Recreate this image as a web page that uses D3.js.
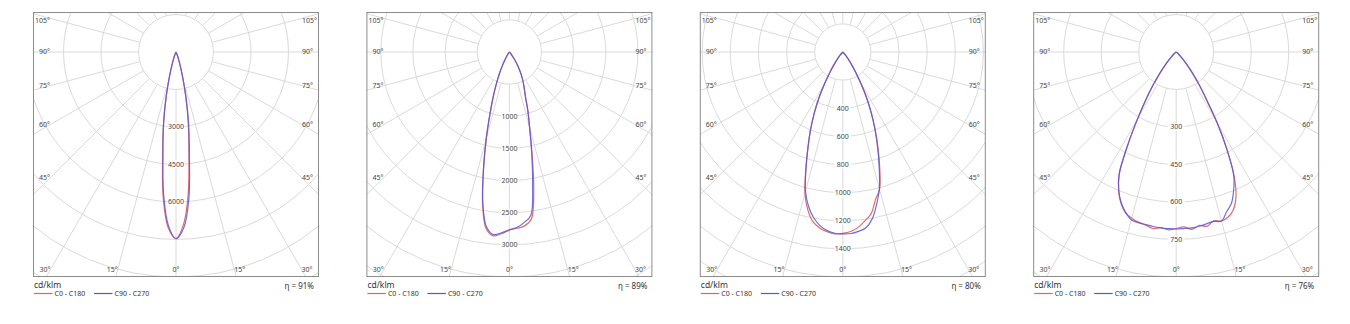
<!DOCTYPE html>
<html><head><meta charset="utf-8">
<script src="https://cdn.jsdelivr.net/npm/d3@7"></script>
<style>
body{margin:0;background:#fff}
svg{display:block}
text{font-family:"Noto Sans",sans-serif}
.txt{opacity:0.995}
</style>
</head><body>
<svg id="chart" width="1350" height="324"></svg>
<script>
// ---- data ----
const gamma = [-60,-57.5,-55,-52.5,-50,-47.5,-45,-42.5,-40,-37.5,-35,-32.5,-30,-27.5,-25,-22.5,-20,-17.5,-15,-12.5,-10,-7.5,-5,-2.5,0,2.5,5,7.5,10,12.5,15,17.5,20,22.5,25,27.5,30,32.5,35,37.5,40,42.5,45,47.5,50,52.5,55,57.5,60];
const seriesNames = ["C0 - C180", "C90 - C270"];
const unitLabel = "cd/klm";
const ringMax = [9000, 3500, 1600, 900];
const ringStep = [1500, 500, 200, 150];
const scaleLabels1 = [3000, 4500, 6000];
const scaleLabels2 = [1000, 1500, 2000, 2500, 3000];
const scaleLabels3 = [400, 600, 800, 1000, 1200, 1400];
const scaleLabels4 = [300, 450, 600, 750];
const efficiency = ["91%", "89%", "80%", "76%"];
const angleLabels = [0, 15, 30, 45, 60, 75, 90, 105];

const p1C0 = [0,0,0,0,0,0,0,0,0,2,3,5,8,20,50,108,235,490,990,1790,2850,4080,5850,7050,
  7460,
  6900,5650,3950,2800,1780,980,490,235,108,50,20,8,5,3,2,0,0,0,0,0,0,0,0,0];
const p1C90 = [0,0,0,0,0,0,0,0,0,2,3,5,8,20,50,110,240,500,1000,1800,2850,4000,5700,6950,
  7470,
  7050,5900,4100,2900,1820,1000,500,240,110,50,20,8,5,3,2,0,0,0,0,0,0,0,0,0];
const p2C0 = [0,0,0,0,0,0,0,3,10,20,35,70,130,230,360,520,730,1000,1390,1860,2400,2770,2870,2830,
  2770,
  2745,2715,2620,2180,1630,1220,955,720,600,500,400,300,200,120,60,30,12,5,2,0,0,0,0,0];
const p2C90 = [0,0,0,0,0,0,0,3,10,20,35,70,130,230,360,520,730,1000,1390,1860,2380,2740,2850,2815,
  2765,
  2730,2660,2560,2080,1600,1210,950,720,600,500,400,300,200,120,60,30,12,5,2,0,0,0,0,0];
const p3C0 = [0,0,0,0,0,2,4,12,30,60,105,170,255,365,480,600,725,875,1040,1150,1225,1262,1283,1295,
  1290,
  1278,1252,1210,1165,1075,1010,875,735,605,480,365,255,170,105,60,30,12,4,2,0,0,0,0,0];
const p3C90 = [0,0,0,0,0,2,4,12,30,60,105,170,255,365,480,600,725,870,1025,1125,1195,1245,1275,1290,
  1293,
  1292,1280,1260,1205,1110,1005,860,725,600,480,365,255,170,105,60,30,12,4,2,0,0,0,0,0];
const p4C0 = [0,1,2,4,8,15,27,45,72,110,160,225,310,420,540,602,645,675,688,697,703,712,705,712,
  706,
  700,712,700,708,692,700,692,670,625,548,440,330,225,160,110,72,45,27,15,8,4,2,1,0];
const p4C90 = [0,1,2,4,8,15,27,45,72,110,160,225,310,420,540,600,642,672,695,699,701,704,706,707,
  708,
  707,706,703,698,694,700,670,645,600,545,440,330,225,160,110,72,45,27,15,8,4,2,1,0];

const panels = [
  {c0: p1C0, c90: p1C90, labels: scaleLabels1},
  {c0: p2C0, c90: p2C90, labels: scaleLabels2},
  {c0: p3C0, c90: p3C90, labels: scaleLabels3},
  {c0: p4C0, c90: p4C90, labels: scaleLabels4}
];

// ---- style / layout ----
const colors = ["#e36262", "#5656d8"];
const PW = 286, PH = 265, TOP = 12, LEFT0 = 33, STEP = 333.4;
const CX = PW / 2, CY = 40, RMAX = 225;
const gridColor = "#dadada", frameColor = "#8c8c8c", textColor = "#444";
const rad = d => d * Math.PI / 180;

const svg = d3.select("#chart");
const defs = svg.append("defs");

panels.forEach((p, i) => {
  const L = LEFT0 + i * STEP;
  const g = svg.append("g").attr("transform", `translate(${L},${TOP})`);
  defs.append("clipPath").attr("id", "clip" + i)
    .append("rect").attr("x", 0).attr("y", 0).attr("width", PW).attr("height", PH);

  const r = d3.scaleLinear().domain([0, ringMax[i]]).range([0, RMAX]);
  const step = ringStep[i];
  const grid = g.append("g").attr("clip-path", `url(#clip${i})`);

  // rings
  const rings = d3.range(2, 10).map(k => k * step);
  grid.selectAll("circle.ring").data(rings).join("circle")
    .attr("class", "ring").attr("cx", CX).attr("cy", CY).attr("r", d => r(d))
    .attr("fill", "none").attr("stroke", gridColor).attr("stroke-width", 1);

  // rays every 15 deg
  const rays = d3.range(0, 360, 15);
  grid.selectAll("line.ray").data(rays).join("line")
    .attr("class", "ray")
    .attr("x1", d => CX + r(step) * Math.sin(rad(d)))
    .attr("y1", d => CY + r(step) * Math.cos(rad(d)))
    .attr("x2", d => CX + 600 * Math.sin(rad(d)))
    .attr("y2", d => CY + 600 * Math.cos(rad(d)))
    .attr("stroke", gridColor).attr("stroke-width", 1);

  // inner blank circle
  grid.append("circle").attr("cx", CX).attr("cy", CY).attr("r", r(step))
    .attr("fill", "#fff").attr("stroke", gridColor).attr("stroke-width", 1);

  // scale labels on the 0 deg axis
  const sl = g.append("g").attr("class", "txt");
  p.labels.forEach(v => {
    const y = CY + r(v);
    sl.append("rect").attr("x", CX - 8.5).attr("y", y - 4).attr("width", 17).attr("height", 8).attr("fill", "#fff");
    sl.append("text").attr("x", CX).attr("y", y).attr("dy", "0.35em")
      .attr("text-anchor", "middle").attr("font-size", 7).attr("fill", textColor).text(v);
  });

  // curves
  const line = d3.lineRadial()
    .angle((d, k) => Math.PI - rad(gamma[k]))
    .radius(d => r(d))
    .curve(d3.curveCatmullRom.alpha(0.5));
  const cg = g.append("g").attr("transform", `translate(${CX},${CY})`);
  [p.c0, p.c90].forEach((s, k) => {
    cg.append("path").attr("d", line(s)).attr("fill", "none")
      .attr("stroke", colors[k]).attr("stroke-width", 1.2)
      .attr("stroke-opacity", k === 1 ? 0.85 : 0.95)
      .attr("stroke-linejoin", "round");
  });

  // frame
  g.append("rect").attr("x", 0.5).attr("y", 0.5).attr("width", PW - 1).attr("height", PH - 1)
    .attr("fill", "none").attr("stroke", frameColor).attr("stroke-width", 1);

  // angle labels
  const al = g.append("g").attr("class", "txt");
  const xl = 17, xr = PW - 17, yb = PH - 7.5, yt = 9;
  angleLabels.forEach(a => {
    const sides = a === 0 ? [0] : [-1, 1];
    sides.forEach(s => {
      const dx = s * Math.sin(rad(a)), dy = Math.cos(rad(a));
      let t = Infinity;
      if (Math.abs(dx) > 1e-9) t = Math.min(t, (s < 0 ? CX - xl : xr - CX) / Math.abs(dx));
      if (dy > 1e-9) t = Math.min(t, (yb - CY) / dy);
      let x = CX + dx * t, y = CY + dy * t;
      y = Math.max(yt, Math.min(yb, y));
      al.append("text").attr("x", x).attr("y", y).attr("dy", "0.35em")
        .attr("text-anchor", s < 0 ? "end" : (s > 0 ? "start" : "middle"))
        .attr("font-size", 7).attr("fill", textColor).text(a + "°");
    });
  });

  // unit + efficiency + legend
  const lg = svg.append("g").attr("class", "txt");
  lg.append("text").attr("x", L + 1).attr("y", 288).attr("font-size", 8.5)
    .attr("fill", "#333").text(unitLabel);
  lg.append("text").attr("x", L + PW - 5).attr("y", 288.5).attr("text-anchor", "end")
    .attr("font-size", 8).attr("fill", "#333").text("η = " + efficiency[i]);

  const legX = [1, 61];
  seriesNames.forEach((n, k) => {
    lg.append("line").attr("x1", L + legX[k]).attr("x2", L + legX[k] + 18.5)
      .attr("y1", 293.5).attr("y2", 293.5).attr("stroke", colors[k]).attr("stroke-width", 1.2);
    lg.append("text").attr("x", L + legX[k] + 20.5).attr("y", 296).attr("font-size", 7)
      .attr("fill", "#333").text(n);
  });
});
</script>
</body></html>
